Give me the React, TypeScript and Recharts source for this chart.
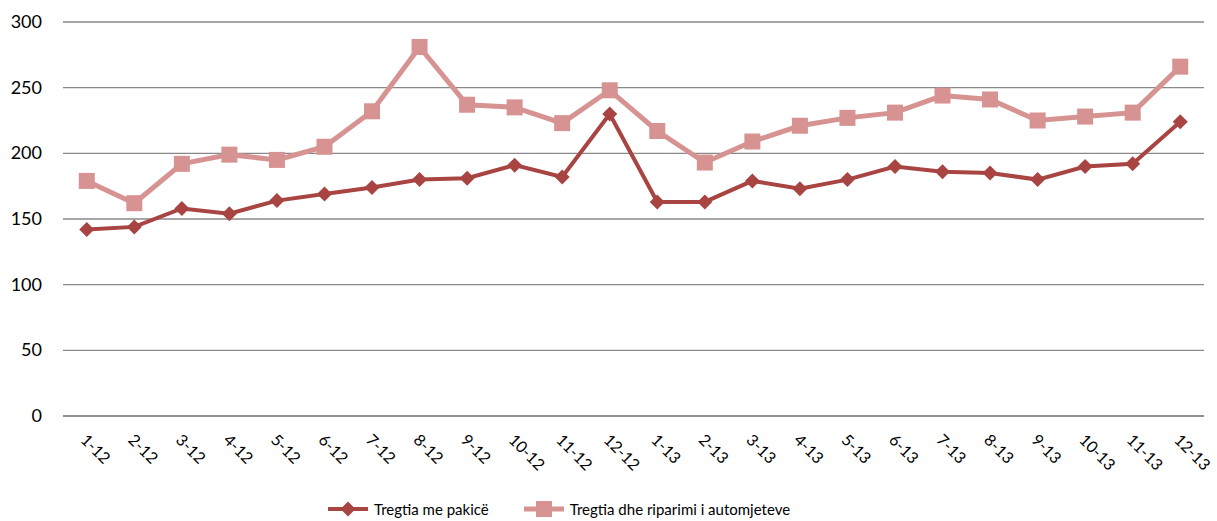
import { LineChart, Line, XAxis, YAxis, CartesianGrid } from "recharts";

const months = [
  "1-12", "2-12", "3-12", "4-12", "5-12", "6-12", "7-12", "8-12", "9-12", "10-12", "11-12", "12-12",
  "1-13", "2-13", "3-13", "4-13", "5-13", "6-13", "7-13", "8-13", "9-13", "10-13", "11-13", "12-13",
];
const retail = [142, 144, 158, 154, 164, 169, 174, 180, 181, 191, 182, 230, 163, 163, 179, 173, 180, 190, 186, 185, 180, 190, 192, 224];
const autoTrade = [179, 162, 192, 199, 195, 205, 232, 281, 237, 235, 223, 248, 217, 193, 209, 221, 227, 231, 244, 241, 225, 228, 231, 266];
const yTicks = [0, 50, 100, 150, 200, 250, 300];

const series = [
  { key: "retail", name: "Tregtia me pakicë", color: "#A84442", width: 4, marker: "diamond" },
  { key: "auto", name: "Tregtia dhe riparimi i automjeteve", color: "#D69391", width: 5, marker: "square" },
];

const data = months.map((m, i) => ({ month: m, retail: retail[i], auto: autoTrade[i] }));

const FONT = "Lato, 'Open Sans', sans-serif";
const GRID = "#898989";

function Marker({ cx, cy, kind, color }: { cx: number; cy: number; kind: string; color: string }) {
  if (cx == null || cy == null) return null;
  if (kind === "square") {
    return <rect x={cx - 8} y={cy - 8} width={16} height={16} fill={color} />;
  }
  return <path d={`M${cx},${cy - 7.5} L${cx + 7.5},${cy} L${cx},${cy + 7.5} L${cx - 7.5},${cy} Z`} fill={color} />;
}

function XTick({ x, y, payload }: any) {
  const tx = x - 7;
  const ty = y + 17;
  return (
    <text x={tx} y={ty} transform={`rotate(45, ${tx}, ${ty})`} fontSize={16} fontFamily={FONT} fill="#000" textAnchor="start">
      {payload.value}
    </text>
  );
}

function YTick({ x, y, payload }: any) {
  return (
    <text x={x - 13} y={y} dy={6} fontSize={18} fontFamily={FONT} fill="#000" textAnchor="end">
      {payload.value}
    </text>
  );
}

export default function App() {
  return (
    <div style={{ position: "absolute", left: 0, top: 0, width: 1217, height: 521, background: "#fff" }}>
      <LineChart width={1217} height={521} data={data} margin={{ top: 22, right: 13, bottom: 0, left: 0 }}>
        <CartesianGrid vertical={false} stroke={GRID} strokeWidth={1.3} />
        <XAxis
          dataKey="month"
          scale="band"
          height={105}
          tickLine={false}
          axisLine={{ stroke: GRID, strokeWidth: 1.3 }}
          tick={<XTick />}
          interval={0}
        />
        <YAxis width={63} domain={[0, 300]} ticks={yTicks} axisLine={false} tickLine={false} tick={<YTick />} />
        {series.map((s) => (
          <Line
            key={s.key}
            dataKey={s.key}
            name={s.name}
            stroke={s.color}
            strokeWidth={s.width}
            isAnimationActive={false}
            dot={(p: any) => <Marker key={p.index} cx={p.cx} cy={p.cy} kind={s.marker} color={s.color} />}
            activeDot={false}
          />
        ))}
      </LineChart>

      {/* legend */}
      <div style={{ position: "absolute", left: 328, top: 499, display: "flex", alignItems: "center", fontFamily: FONT, fontSize: 15, color: "#000" }}>
        {series.map((s, i) => (
          <div key={s.key} style={{ display: "flex", alignItems: "center", marginRight: i === 0 ? 35 : 0 }}>
            <svg width={40} height={20} style={{ marginRight: 6 }}>
              <line x1={0} y1={10} x2={40} y2={10} stroke={s.color} strokeWidth={s.width} />
              <Marker cx={20} cy={10} kind={s.marker} color={s.color} />
            </svg>
            <span>{s.name}</span>
          </div>
        ))}
      </div>
    </div>
  );
}
